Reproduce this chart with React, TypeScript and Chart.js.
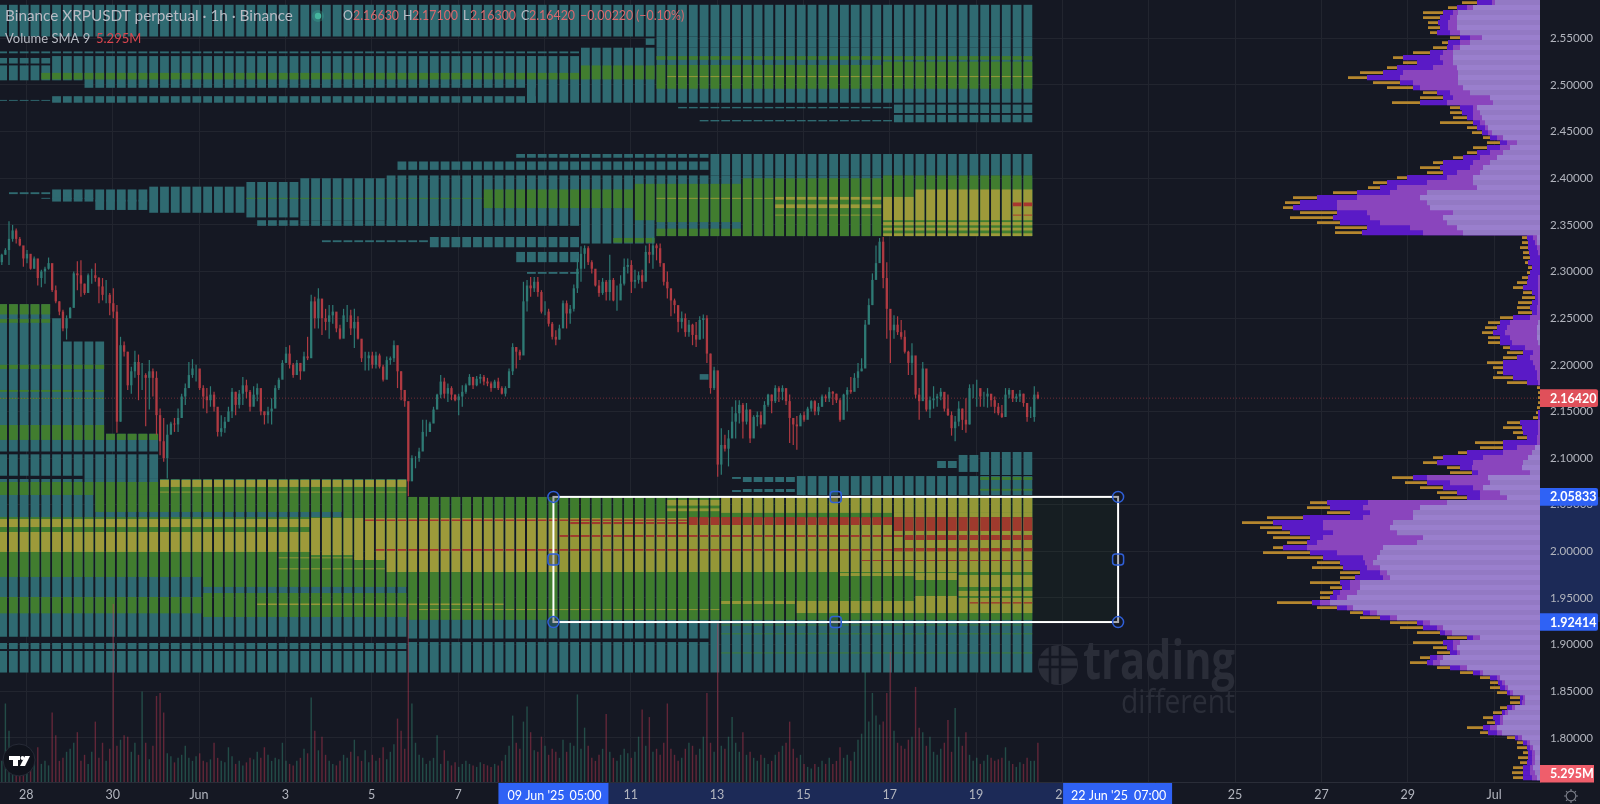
import React, { useEffect, useRef } from "react";
import { Chart, registerables } from "chart.js";

Chart.register(...registerables);

const FONT = "Lato, 'Open Sans', sans-serif";

// Price axis and time axis (days counted from 1 Jun 2025; 28 May = -3)
const priceTicks = [1.8, 1.85, 1.9, 1.95, 2.0, 2.05, 2.1, 2.15, 2.2, 2.25, 2.3, 2.35, 2.4, 2.45, 2.5, 2.55];
const timeTickDays = [-3, -1, 1, 3, 5, 7, 9, 11, 13, 15, 17, 19, 21, 23, 25, 27, 29, 31];
const timeTickLabels = ["28", "30", "Jun", "3", "5", "7", "9", "11", "13", "15", "17", "19", "21", "23", "25", "27", "29", "Jul"];

const lastPrice = 2.1642;
const rangeTop = 2.05833;
const rangeBottom = 1.92414;
const rangeFromDay = 9.21;
const rangeToDay = 22.29;
const volumeSma = 5.295;

// Candles, one sample per two hours, in thousandths of a USDT
const firstCandleDay = -3.568;
const candleStepDays = 1 / 12;
const highs = [
  2319,2325,2354,2350,2346,2337,2323,2323,2314,2316,2305,2302,2305,2315,2307,2285,2268,2259,2253,2262,2300,2311,2312,2287,2298,2303,2309,2294,2293,2291,2277,2282,2264,2230,2225,2214,2198,2215,2211,2202,2191,2205,2196,2193,2153,2143,2136,2139,2143,2153,2169,2180,2203,2206,2200,2189,2178,2175,2177,2171,2150,2146,2144,2155,2175,2171,2173,2187,2184,2173,2177,2180,2164,2150,2155,2164,
  2178,2186,2205,2219,2221,2202,2205,2200,2214,2230,2275,2273,2282,2270,2260,2264,2264,2253,2243,2260,2264,2259,2260,2252,2227,2214,2214,2214,2214,2212,2200,2209,2209,2226,2207,2193,2171,2155,2103,2102,2111,2141,2141,2139,2155,2169,2189,2186,2180,2177,2168,2169,2178,2180,2190,2185,2188,2190,2189,2186,2182,2184,2186,2177,2177,2196,2223,2219,2216,2289,2291,2294,2294,2294,
  2280,2268,2260,2246,2237,2243,2269,2269,2264,2286,2314,2327,2328,2327,2312,2300,2291,2293,2291,2318,2293,2285,2296,2314,2314,2312,2302,2300,2302,2328,2330,2337,2330,2330,2307,2300,2273,2271,2260,2257,2255,2248,2244,2246,2252,2254,2253,2212,2198,2193,2132,2125,2130,2155,2162,2162,2159,2159,2152,2146,2150,2150,2161,2169,2168,2178,2177,2178,2169,2168,
  2139,2145,2148,2150,2155,2162,2162,2159,2168,2168,2176,2172,2169,2164,2169,2176,2187,2191,2202,2207,2248,2271,2298,2328,2336,2337,2310,2255,2253,2252,2248,2237,2215,2223,2194,2175,2203,2191,2166,2177,2169,2175,2168,2168,2150,2145,2161,2153,2164,2179,2179,2184,2169,2171,2175,2166,2166,2159,2157,2175,2175,2173,2169,2173,2169,2157,2155,2177,2171,
];
const lows = [
  2307,2318,2307,2332,2330,2327,2305,2309,2302,2303,2285,2283,2287,2302,2278,2266,2253,2236,2227,2250,2264,2280,2273,2275,2277,2287,2289,2266,2269,2266,2253,2250,2127,2139,2209,2173,2169,2186,2162,2173,2134,2152,2166,2125,2103,2096,2078,2127,2128,2128,2143,2157,2180,2186,2182,2173,2153,2148,2155,2150,2123,2123,2127,2139,2143,2146,2153,2157,2164,2150,2157,2161,2146,2136,2137,2136,
  2155,2173,2186,2202,2196,2186,2189,2184,2193,2205,2228,2239,2239,2232,2237,2228,2244,2235,2227,2235,2246,2232,2218,2227,2203,2194,2194,2196,2196,2196,2182,2189,2200,2203,2175,2162,2155,2059,2080,2089,2096,2118,2123,2128,2139,2153,2164,2164,2160,2162,2161,2146,2155,2169,2178,2174,2177,2180,2178,2177,2171,2175,2173,2168,2166,2175,2189,2196,2205,2214,2257,2273,2278,2273,
  2255,2253,2241,2227,2221,2227,2243,2239,2244,2257,2277,2289,2303,2307,2298,2284,2273,2275,2269,2269,2268,2258,2275,2285,2298,2277,2282,2287,2282,2293,2309,2303,2312,2305,2285,2271,2252,2255,2235,2239,2230,2230,2221,2219,2227,2228,2202,2169,2173,2080,2082,2107,2091,2125,2121,2137,2121,2136,2116,2132,2134,2132,2139,2155,2148,2159,2160,2162,2157,2116,
  2114,2109,2136,2139,2144,2150,2146,2146,2155,2160,2160,2157,2159,2139,2157,2150,2169,2175,2175,2193,2207,2244,2264,2296,2314,2282,2228,2202,2228,2232,2227,2212,2189,2189,2164,2141,2173,2150,2143,2153,2155,2162,2150,2145,2124,2118,2134,2130,2127,2136,2164,2155,2155,2155,2154,2155,2148,2146,2143,2146,2164,2160,2160,2160,2155,2139,2143,2139,2163,
];
const closes = [
  2318,2323,2335,2344,2335,2328,2314,2319,2303,2314,2293,2300,2303,2309,2280,2268,2257,2239,2250,2261,2298,2296,2287,2277,2296,2296,2293,2284,2275,2275,2266,2257,2139,2221,2214,2178,2193,2203,2189,2189,2186,2193,2186,2146,2118,2100,2125,2137,2136,2143,2166,2175,2189,2196,2196,2175,2166,2162,2168,2155,2128,2132,2139,2150,2171,2157,2169,2178,2171,2155,2168,2175,2150,2146,2150,2153,
  2175,2184,2202,2212,2200,2189,2202,2193,2209,2207,2268,2250,2271,2250,2246,2253,2257,2239,2228,2253,2253,2239,2246,2228,2207,2207,2210,2200,2210,2198,2184,2205,2207,2221,2193,2173,2161,2075,2100,2100,2107,2128,2128,2137,2152,2168,2182,2169,2175,2168,2162,2166,2171,2178,2187,2178,2185,2187,2182,2180,2175,2182,2175,2169,2175,2193,2219,2214,2210,2268,2285,2282,2289,2278,
  2257,2257,2244,2230,2227,2239,2266,2255,2260,2282,2303,2319,2325,2310,2303,2285,2277,2289,2278,2291,2269,2269,2287,2305,2307,2289,2291,2296,2289,2321,2318,2328,2325,2309,2289,2282,2269,2264,2246,2250,2235,2243,2232,2227,2248,2250,2212,2175,2194,2093,2114,2110,2121,2139,2148,2157,2139,2152,2121,2144,2146,2136,2157,2168,2161,2175,2171,2175,2161,2143,
  2136,2134,2146,2141,2153,2161,2150,2155,2166,2164,2171,2169,2162,2141,2168,2173,2171,2186,2193,2196,2243,2264,2291,2309,2332,2293,2260,2237,2243,2235,2230,2214,2202,2210,2168,2161,2196,2152,2162,2164,2166,2171,2153,2146,2132,2139,2153,2141,2136,2175,2175,2175,2166,2166,2169,2162,2155,2148,2144,2168,2173,2164,2166,2169,2159,2144,2144,2168,2164,
];

// Volume per candle sample, in millions
const volumes = [
  14,52,34,12,10,14,16,13,12,15,23,12,14,11,46,31,14,16,20,22,26,33,14,18,12,20,40,16,26,14,22,118,24,28,31,30,20,26,18,60,
  26,15,24,57,59,46,19,17,13,16,18,24,16,14,17,19,14,13,15,26,16,14,13,23,17,12,14,11,13,16,15,20,16,23,18,14,16,15,26,14,
  12,11,14,16,22,19,56,34,21,30,18,14,12,11,14,18,16,20,28,17,14,21,13,18,14,16,23,15,20,25,42,34,22,118,52,26,18,16,12,14,
  16,31,12,21,14,11,13,10,12,14,12,11,10,13,12,11,10,12,11,14,18,24,44,26,22,40,50,33,21,20,30,24,18,22,20,16,28,20,26,24,
  58,22,36,24,16,14,18,22,45,20,16,14,18,22,19,16,20,30,48,24,43,20,22,18,26,52,22,18,14,16,22,26,24,18,22,30,59,26,20,105,
  24,22,30,43,26,20,33,18,20,16,14,18,16,12,14,18,20,24,26,40,22,16,18,12,10,9,12,10,14,12,16,12,14,23,16,18,14,20,28,32,
  73,40,59,44,38,40,59,86,34,26,24,22,28,30,63,36,33,24,30,20,18,22,26,41,20,49,30,24,33,18,14,16,12,14,18,16,14,15,16,23,
  14,12,10,13,12,16,14,14,26,
];

// Liquidity heat map: [top price, bottom price, first day, last day]
const firstHeatColumnDay = -3.8;
const heatColumnStepDays = 0.25;
const heatColumnCount = 97;
const tealBands = [
  [2.586,2.552,-5,21],[2.552,2.54,11.56,21],[2.55,2.543,11.3,11.6],[2.536,2.534,-5,9.8],
  [2.529,2.523,-5,-2.4],[2.521,2.505,-5,-2.4],[2.531,2.505,-2.4,-1.75],[2.531,2.497,-1.75,8.7],
  [2.488,2.481,-2.3,8.7],[2.484,2.483,-5,-2.3],[2.531,2.481,8.7,9.94],[2.54,2.481,9.94,21],
  [2.479,2.47,16.96,21],[2.468,2.46,16.96,21],[2.4765,2.475,11.96,16.96],[2.4625,2.461,12.6,17],
  [2.426,2.422,8.3,12.85],[2.418,2.409,5.55,12.85],[2.426,2.403,12.85,21],
  [2.403,2.349,5.3,9.94],[2.403,2.33,9.94,11.47],[2.403,2.338,11.47,21],
  [2.337,2.326,6.35,9.94],[2.3335,2.3315,3.8,6.35],[2.355,2.349,2.34,8.8],
  [2.321,2.31,8.44,9.94],[2.2995,2.2975,8.67,9.7],
  [2.4,2.355,3.34,5.3],[2.396,2.358,2.07,3.34],[2.391,2.363,-0.25,2.07],[2.388,2.375,-2.45,-0.25],
  [2.377,2.366,-1.5,-0.25],[2.385,2.383,-3.4,-2.45],[2.379,2.378,-2.6,-1.5],[2.19,2.184,12.6,12.8],
  [2.265,2.107,-5,-2.4],[2.25,2.107,-2.4,-2.15],[2.225,2.107,-2.15,-1.05],[2.126,2.107,-1.05,0],
  [2.104,2.081,-5,-1.6],[2.104,2.0776,-1.6,0.1],[2.0775,1.9083,-5,5.85],
  [1.9017,1.8952,-5,5.85],[1.8931,1.87,-5,5.85],[2.0583,1.9065,5.85,12.8],[1.9027,1.87,5.85,12.8],
  [2.0583,1.87,12.8,21],
  [2.1065,2.0818,18.97,21],[2.1033,2.0851,18.58,18.97],[2.0968,2.0893,18.03,18.58],
  [2.0807,2.0603,14.74,21],[2.0797,2.0743,13.62,14.74],[2.0668,2.0636,13.62,14.74],
  [2.0797,2.0776,13.35,13.62],[2.0657,2.0636,13.35,13.62],
];
const greenBands = [
  [2.513,2.506,-2.55,9.75],[2.521,2.506,9.75,11.56],[2.5215,2.496,11.56,16.8],[2.525,2.496,16.8,21],[2.531,2.527,11.56,21],
  [2.379,2.378,1.97,7.7],[2.388,2.368,7.7,11],[2.394,2.355,11,11.6],[2.394,2.353,11.6,13.5],[2.346,2.338,11.6,13.5],
  [2.336,2.331,10.5,11.5],[2.4,2.338,13.5,16.73],[2.403,2.338,16.73,21],
  [2.265,2.254,-5,-2.4],[2.249,2.245,-5,-2.4],[2.2,2.1955,-5,-1.05],[2.173,2.171,-5,-1.05],[2.1645,2.1635,-5,-1.05],
  [2.1354,2.1194,-5,-1.05],[2.126,2.1194,-1.05,0],[2.0743,2.0604,-5,0.1],[2.0604,2.0422,-1.5,0.1],[2.0769,2.0422,0.1,5.85],
  [2.0367,1.9725,-5,1.16],[2.0367,1.9618,1.16,5.85],[1.9553,1.9296,1.16,5.85],[1.951,1.9335,-5,1.16],[2.0422,2.0367,4.36,5.85],
  [2.0583,2.0357,5.85,21],[1.9783,1.9265,5.85,21],[1.9215,1.9205,13,21],[1.912,1.911,13,21],[1.8915,1.8905,13,21],
  [2.0797,2.0765,18.97,21],[2.067,2.065,18.97,21],
];
const yellowBands = [
  [2.5095,2.5085,11.9,21],[2.379,2.378,11.7,14.45],[2.38,2.377,14.45,16.75],[2.372,2.368,14.45,16.75],[2.361,2.36,14.45,16.75],
  [2.38,2.355,16.8,17.6],[2.388,2.355,17.6,21],[2.353,2.3495,16.73,21],[2.347,2.344,16.73,21],[2.341,2.338,16.73,21],
  [2.0346,2.026,-5,3.57],[2.0207,1.9993,-5,3.57],[2.0357,1.996,3.57,4.64],[2.0357,1.9907,4.64,5.26],[2.0357,1.9778,5.26,21],
  [1.9935,1.9925,2.9,5.2],[1.9817,1.9807,2.9,5.2],[1.944,1.9425,2.4,8],[1.938,1.937,6.2,13],
  [2.0765,2.069,0.1,5.85],[2.064,2.063,0.1,5.85],
  [2.055,2.049,11.95,13.1],[2.046,2.043,11.95,13.1],[2.0583,2.0412,13.1,21],[2.0412,2.0367,17.05,21],
  [1.9467,1.9435,13,14.9],[1.9467,1.9338,14.9,18.63],[1.9767,1.9735,15.85,17.7],[1.9767,1.9692,17.7,18.63],[1.9521,1.9467,17.7,18.63],
  [1.9746,1.9617,18.63,21],[1.9575,1.9521,18.63,21],[1.95,1.9338,18.63,21],
];
const redBands = [
  [2.374,2.37,19.8,21],[2.361,2.36,19.8,21],[2.0341,2.0325,4.73,12.37],[2.0367,2.0282,12.37,17.1],[2.0367,2.0218,17.1,21],
  [2.0314,2.0292,9.6,12.26],[2.0175,2.0154,9.36,17.35],[2.0175,2.0121,17.35,21],[2.0025,2.0005,5.2,17],[2.0035,2,17,21],
  [1.9907,1.9896,16.3,21],[1.9455,1.944,18.8,21],
];

// Visible-range profile: one row per price bin, widths of the four nested layers
const firstProfilePrice = 2.5884;
const profileStep = 0.005362;
const profileOrange = [
  78,92,117,117,112,112,110,90,98,107,127,147,137,153,180,192,167,153,117,120,148,90,90,87,100,73,68,57,53,67,73,87,107,120,113,143,167,172,207,247,255,257,240,250,223,205,205,
  18,18,20,17,17,15,12,13,18,23,27,17,18,22,23,22,40,52,55,58,52,52,37,33,37,53,47,43,47,33,3,2,2,
  2,3,4,7,33,37,27,23,65,60,82,107,117,93,90,148,135,120,103,100,230,233,213,273,298,280,273,267,253,267,277,253,223,228,200,200,230,210,220,220,263,223,190,180,150,140,123,93,127,107,103,120,130,103,80,60,50,50,43,30,30,40,47,57,53,73,60,33,23,23,17,22,20,27,28,27,
];
const profileViolet = [
  63,83,97,100,102,100,103,80,92,93,110,137,123,143,157,173,140,127,103,97,120,80,78,73,67,63,58,50,40,53,63,77,97,100,97,133,153,160,183,223,240,247,203,207,200,173,178,
  13,12,12,11,10,12,8,10,12,13,17,8,5,8,10,8,27,40,43,47,40,40,30,17,23,37,37,37,27,13,0,0,0,
  0,0,2,2,20,18,17,13,37,37,73,97,103,80,68,127,113,97,83,73,213,210,190,237,267,258,250,230,233,257,230,217,200,197,180,185,200,198,207,210,228,203,177,160,123,117,100,73,97,93,90,110,113,90,67,50,42,40,33,20,20,33,38,47,45,57,52,25,17,13,12,12,13,17,17,17,
];
const profileMid = [
  48,73,87,90,92,92,90,70,80,87,97,100,97,107,137,140,127,120,90,87,93,67,67,67,60,55,52,43,33,40,50,60,67,70,83,93,113,143,150,183,203,203,173,170,160,130,117,
  7,5,3,2,0,0,0,0,2,2,2,2,2,2,3,3,10,30,33,35,30,28,15,7,10,7,5,3,3,2,0,0,0,
  0,0,0,0,2,2,2,3,3,23,37,57,67,68,62,113,90,67,60,60,172,177,170,177,217,217,207,217,223,233,203,177,175,173,160,157,190,190,200,203,220,193,170,150,117,103,95,67,87,87,83,103,107,80,60,43,38,35,30,17,18,28,35,40,40,50,43,22,13,10,8,8,8,10,10,8,
];
const profileLight = [
  45,67,82,83,83,83,80,58,70,80,87,87,87,83,82,82,82,77,70,50,47,63,60,58,55,52,48,37,23,30,37,43,50,57,60,67,67,63,113,120,113,110,87,97,93,83,77,
  3,3,0,0,0,0,0,0,0,0,0,0,0,0,0,0,0,2,3,3,3,2,0,0,0,0,0,0,0,0,0,0,0,
  0,0,0,0,0,0,0,0,0,5,8,12,17,18,10,52,50,57,40,33,93,120,127,127,147,150,143,117,123,157,160,163,167,160,153,150,180,180,183,193,210,187,163,143,110,97,88,60,80,83,80,97,100,73,57,40,35,32,27,15,15,25,32,37,37,43,38,18,10,7,5,5,5,7,5,3,
];

const heatColumns = Array.from({ length: heatColumnCount }, (_, i) => firstHeatColumnDay + i * heatColumnStepDays);
const candleDays = highs.map((_, i) => firstCandleDay + i * candleStepDays);
const opens = closes.map((_, i) => (i === 0 ? 2310 : closes[i - 1]));
const profilePrices = profileOrange.map((_, i) => firstProfilePrice - i * profileStep);

const BG = "#151823";
const UP = "#2e7a74";
const DOWN = "#b03a42";

function heatDataset(bands: number[][], color: string, order: number) {
  return {
    type: "bar",
    order,
    grouped: false,
    barThickness: 8.8,
    inflateAmount: 0,
    borderWidth: 0,
    backgroundColor: color,
    xAxisID: "x",
    yAxisID: "y",
    data: heatColumns.flatMap((col) =>
      bands.filter((b) => col >= b[2] && col <= b[3]).map((b) => ({ x: col, y: [b[1], b[0]] }))
    ),
  };
}

function profileDataset(widths: number[], color: any, order: number, thickness = 5.2) {
  return {
    type: "bar",
    order,
    indexAxis: "y",
    grouped: false,
    barThickness: thickness,
    inflateAmount: 0,
    borderWidth: 0,
    backgroundColor: color,
    xAxisID: "xp",
    yAxisID: "y",
    data: widths.map((w, i) => ({ x: [0, w], y: profilePrices[i] })),
  };
}

function text(ctx: any, s: string, x: number, y: number, color: string, font: string, align = "left", maxWidth?: number) {
  ctx.fillStyle = color;
  ctx.font = font;
  ctx.textAlign = align;
  ctx.textBaseline = "middle";
  if (maxWidth) ctx.fillText(s, x, y, maxWidth);
  else ctx.fillText(s, x, y);
}

const overlay = {
  id: "overlay",
  beforeDraw(chart: any) {
    const { ctx, scales } = chart;
    ctx.save();
    ctx.fillStyle = BG;
    ctx.fillRect(0, 0, 1600, 804);
    const x0 = scales.x.getPixelForValue(rangeFromDay);
    const x1 = scales.x.getPixelForValue(rangeToDay);
    const y0 = scales.y.getPixelForValue(rangeTop);
    const y1 = scales.y.getPixelForValue(rangeBottom);
    ctx.fillStyle = "#1c2a57";
    ctx.fillRect(x0, 783, x1 - x0, 21);
    ctx.fillRect(1540, y0, 60, y1 - y0);
    ctx.restore();
  },
  afterDatasetsDraw(chart: any) {
    const { ctx, scales } = chart;
    const x0 = scales.x.getPixelForValue(rangeFromDay);
    const x1 = scales.x.getPixelForValue(rangeToDay);
    const y0 = scales.y.getPixelForValue(rangeTop);
    const y1 = scales.y.getPixelForValue(rangeBottom);
    ctx.save();
    // watermark
    const mark = "#2a2d38";
    ctx.fillStyle = mark;
    ctx.beginPath();
    ctx.arc(1058, 665, 20, 0, Math.PI * 2);
    ctx.fill();
    ctx.strokeStyle = BG;
    ctx.lineWidth = 2.5;
    ctx.beginPath();
    for (const v of [1050, 1060]) { ctx.moveTo(v, 646); ctx.lineTo(v, 684); }
    for (const h of [657, 667]) { ctx.moveTo(1039, h); ctx.lineTo(1077, h); }
    ctx.stroke();
    text(ctx, "trading", 1083, 664, mark, "bold 54px 'Open Sans', sans-serif", "left", 152);
    text(ctx, "different", 1121, 704, mark, "33px 'Open Sans', sans-serif", "left", 114);
    // range selection
    ctx.fillStyle = "rgba(40,110,30,0.07)";
    ctx.fillRect(x0, y0, x1 - x0, y1 - y0);
    ctx.strokeStyle = "#ffffff";
    ctx.lineWidth = 2;
    ctx.strokeRect(x0, y0, x1 - x0, y1 - y0);
    const xm = (x0 + x1) / 2;
    const ym = (y0 + y1) / 2;
    ctx.strokeStyle = "#2f5fd8";
    ctx.lineWidth = 1.5;
    ctx.fillStyle = "rgba(21,24,35,0.3)";
    for (const [a, b] of [[xm, y0], [xm, y1], [x0, ym], [x1, ym]]) {
      ctx.beginPath();
      ctx.roundRect(a - 5.5, b - 5.5, 11, 11, 3);
      ctx.fill();
      ctx.stroke();
    }
    ctx.fillStyle = "rgba(21,24,35,0.35)";
    for (const [a, b] of [[x0, y0], [x1, y0], [x0, y1], [x1, y1]]) {
      ctx.beginPath();
      ctx.arc(a, b, 5.5, 0, Math.PI * 2);
      ctx.fill();
      ctx.stroke();
    }
    ctx.restore();
  },
  afterDraw(chart: any) {
    const { ctx, scales } = chart;
    const x0 = scales.x.getPixelForValue(rangeFromDay);
    const x1 = scales.x.getPixelForValue(rangeToDay);
    ctx.save();
    const labelFont = `12.4px ${FONT}`;
    const tagFont = `bold 12.5px ${FONT}`;
    const redText = "#d8696e";
    const grey = "#b8bbc4";
    // legend
    text(ctx, "Binance XRPUSDT perpetual · 1h · Binance", 5, 16, grey, `15.3px ${FONT}`);
    ctx.fillStyle = "rgba(60,190,160,0.25)";
    ctx.beginPath(); ctx.arc(318, 16, 6, 0, Math.PI * 2); ctx.fill();
    ctx.fillStyle = "#45b59d";
    ctx.beginPath(); ctx.arc(318, 16, 3.2, 0, Math.PI * 2); ctx.fill();
    const legend: [string, number, string][] = [
      ["O", 343, grey], ["2.16630", 353, redText], ["H", 403, grey], ["2.17100", 412, redText],
      ["L", 463, grey], ["2.16300", 470, redText], ["C", 521, grey], ["2.16420", 529, redText],
      ["−0.00220", 580, redText], ["(−0.10%)", 636, redText],
    ];
    for (const [s, x, c] of legend) text(ctx, s, x, 16, c, labelFont);
    text(ctx, "Volume SMA 9", 5, 39, grey, `13px ${FONT}`);
    text(ctx, volumeSma.toFixed(3) + "M", 96, 39, "#d9464f", `13px ${FONT}`);
    // time tags
    ctx.fillStyle = "#2f62f5";
    ctx.fillRect(x0 - 55, 783, 110, 21);
    ctx.fillRect(x1 - 55, 783, 109, 21);
    text(ctx, "09 Jun '25", x0 - 46, 796, "#ffffff", `12.5px ${FONT}`);
    text(ctx, "05:00", x0 + 16, 796, "#ffffff", `12.5px ${FONT}`);
    text(ctx, "22 Jun '25", x1 - 47, 796, "#ffffff", `12.5px ${FONT}`);
    text(ctx, "07:00", x1 + 16, 796, "#ffffff", `12.5px ${FONT}`);
    // price tags
    const tag = (v: number, bg: string, s: string, w = 58) => {
      const y = scales.y.getPixelForValue(v);
      ctx.fillStyle = bg;
      ctx.beginPath();
      ctx.roundRect(1540, y - 8.8, w, 17.6, [0, 2, 2, 0]);
      ctx.fill();
      text(ctx, s, 1550, y + 0.5, "#ffffff", tagFont);
    };
    tag(lastPrice, "#e0505a", lastPrice.toFixed(5));
    tag(rangeTop, "#2f62f5", rangeTop.toFixed(5));
    tag(rangeBottom, "#2f62f5", rangeBottom.toFixed(5));
    const vy = scales.yv.getPixelForValue(volumeSma);
    ctx.fillStyle = "#ef5e6b";
    ctx.fillRect(1540, vy - 9, 54, 17.5);
    text(ctx, volumeSma.toFixed(3) + "M", 1550, vy, "#ffffff", tagFont);
    // platform badge
    ctx.fillStyle = "#10131c";
    ctx.strokeStyle = "#262a36";
    ctx.lineWidth = 1;
    ctx.beginPath(); ctx.arc(19, 760, 16, 0, Math.PI * 2); ctx.fill(); ctx.stroke();
    ctx.fillStyle = "#ffffff";
    ctx.fillRect(9, 756, 11, 4);
    ctx.fillRect(13, 756, 5, 10);
    ctx.beginPath(); ctx.arc(22.5, 758, 2, 0, Math.PI * 2); ctx.fill();
    ctx.beginPath(); ctx.moveTo(25, 756); ctx.lineTo(30, 756); ctx.lineTo(25, 766); ctx.lineTo(20, 766); ctx.closePath(); ctx.fill();
    // settings glyph
    ctx.strokeStyle = "#787b86";
    ctx.lineWidth = 1.2;
    ctx.beginPath(); ctx.arc(1571, 796, 4.8, 0, Math.PI * 2); ctx.stroke();
    ctx.beginPath();
    for (let i = 0; i < 8; i++) {
      const a = (i * Math.PI) / 4;
      ctx.moveTo(1571 + 4.8 * Math.cos(a), 796 + 4.8 * Math.sin(a));
      ctx.lineTo(1571 + 7 * Math.cos(a), 796 + 7 * Math.sin(a));
    }
    ctx.stroke();
    ctx.restore();
  },
};

export default function App() {
  const ref = useRef<HTMLCanvasElement | null>(null);
  useEffect(() => {
    document.body.style.margin = "0";
    document.body.style.background = BG;
    const isUp = (i: number) => closes[i] >= opens[i];
    const chart = new Chart(ref.current as any, {
      type: "bar",
      plugins: [overlay],
      data: {
        datasets: [
          {
            type: "bar", order: 2, grouped: false, barThickness: 2.3, inflateAmount: 0, borderWidth: 0,
            backgroundColor: closes.map((_, i) => (isUp(i) ? UP : DOWN)),
            xAxisID: "x", yAxisID: "y",
            data: closes.map((c, i) => ({ x: candleDays[i], y: [opens[i] / 1000, c / 1000] })),
          },
          {
            type: "bar", order: 3, grouped: false, barThickness: 1.2, inflateAmount: 0, borderWidth: 0,
            backgroundColor: closes.map((_, i) => (isUp(i) ? UP : DOWN)),
            xAxisID: "x", yAxisID: "y",
            data: highs.map((h, i) => ({ x: candleDays[i], y: [lows[i] / 1000, h / 1000] })),
          },
          {
            type: "line", order: 4, borderColor: "rgba(226,70,80,0.45)", borderWidth: 1, borderDash: [1, 2], pointRadius: 0,
            xAxisID: "x", yAxisID: "y",
            data: [{ x: -3.61, y: lastPrice }, { x: 32.07, y: lastPrice }],
          },
          {
            type: "bar", order: 5, grouped: false, barThickness: 1.4, inflateAmount: 0, borderWidth: 0,
            backgroundColor: closes.map((_, i) => (isUp(i) ? "rgba(55,150,125,0.42)" : "rgba(205,60,85,0.42)")),
            xAxisID: "x", yAxisID: "yv",
            data: volumes.map((v, i) => ({ x: candleDays[i], y: v })),
          },
          heatDataset(redBands, "#a8362f", 7),
          heatDataset(yellowBands, "#9d9a3a", 8),
          heatDataset(greenBands, "#417d2f", 9),
          heatDataset(tealBands, "#2f6a71", 10),
          profileDataset(profileLight, profileLight.map((_, i) => (i % 2 ? "#9a7fcd" : "#9379c4")), 11),
          profileDataset(profileMid, "#8a45bd", 12),
          profileDataset(profileViolet, "#5a1ac6", 13),
          profileDataset(profileOrange, "#b5862e", 14, 2.8),
        ] as any,
      },
      options: {
        animation: false,
        responsive: false,
        devicePixelRatio: 1,
        layout: { padding: 0, autoPadding: false },
        plugins: { legend: { display: false }, tooltip: { enabled: false }, title: { display: false } },
        events: [],
        scales: {
          x: {
            type: "linear", position: "bottom", offset: false, min: -3.6097, max: 32.063,
            grid: { color: "#22252f", offset: false, drawTicks: false, tickLength: 0 },
            border: { display: true, color: "#2a2d38" },
            afterBuildTicks: (axis: any) => { axis.ticks = timeTickDays.map((value) => ({ value })); },
            afterFit: (axis: any) => { axis.height = 22; axis.paddingLeft = 0; axis.paddingRight = 0; },
            ticks: {
              autoSkip: false, maxRotation: 0, minRotation: 0, padding: 5, color: "#b2b5be",
              font: { family: FONT, size: 12.5 },
              callback: (v: any) => timeTickLabels[timeTickDays.indexOf(v)] ?? "",
            },
          },
          y: {
            type: "linear", position: "right", offset: false, min: 1.75263, max: 2.59114,
            grid: { color: "#22252f", offset: false, drawTicks: false, tickLength: 0 },
            border: { display: false },
            afterBuildTicks: (axis: any) => { axis.ticks = priceTicks.map((value) => ({ value })); },
            afterFit: (axis: any) => { axis.width = 60; axis.paddingTop = 0; axis.paddingBottom = 0; },
            ticks: {
              autoSkip: false, padding: 10, color: "#b2b5be",
              font: { family: FONT, size: 11.6 },
              callback: (v: any) => Number(v).toFixed(5),
            },
          },
          xp: { type: "linear", axis: "x", display: false, offset: false, reverse: true, min: 0, max: 1540, grid: { display: false, offset: false } },
          yv: { type: "linear", axis: "y", display: false, offset: false, min: 0, max: 518, grid: { display: false, offset: false } },
        },
      } as any,
    });
    return () => chart.destroy();
  }, []);
  return <canvas ref={ref} width={1600} height={804} style={{ display: "block" }} />;
}
